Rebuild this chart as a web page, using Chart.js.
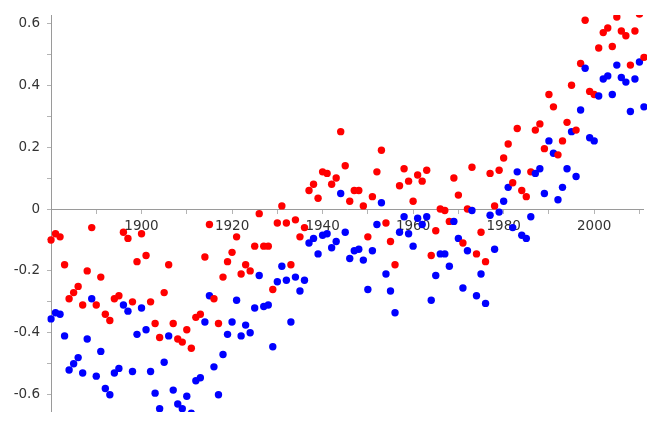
<!DOCTYPE html>
<html>
<head>
<meta charset="utf-8">
<script src="https://cdn.jsdelivr.net/npm/chart.js@4/dist/chart.umd.min.js"></script>
<style>
  html, body { margin: 0; padding: 0; background: #ffffff; }
  canvas { display: block; }
</style>
</head>
<body>
<canvas id="chart" width="647" height="427"></canvas>
<script>
// Annual temperature anomalies, two records, one point per year.
const years = [
  1880, 1881, 1882, 1883, 1884, 1885, 1886, 1887, 1888, 1889,
  1890, 1891, 1892, 1893, 1894, 1895, 1896, 1897, 1898, 1899,
  1900, 1901, 1902, 1903, 1904, 1905, 1906, 1907, 1908, 1909,
  1910, 1911, 1912, 1913, 1914, 1915, 1916, 1917, 1918, 1919,
  1920, 1921, 1922, 1923, 1924, 1925, 1926, 1927, 1928, 1929,
  1930, 1931, 1932, 1933, 1934, 1935, 1936, 1937, 1938, 1939,
  1940, 1941, 1942, 1943, 1944, 1945, 1946, 1947, 1948, 1949,
  1950, 1951, 1952, 1953, 1954, 1955, 1956, 1957, 1958, 1959,
  1960, 1961, 1962, 1963, 1964, 1965, 1966, 1967, 1968, 1969,
  1970, 1971, 1972, 1973, 1974, 1975, 1976, 1977, 1978, 1979,
  1980, 1981, 1982, 1983, 1984, 1985, 1986, 1987, 1988, 1989,
  1990, 1991, 1992, 1993, 1994, 1995, 1996, 1997, 1998, 1999,
  2000, 2001, 2002, 2003, 2004, 2005, 2006, 2007, 2008, 2009,
  2010, 2011
];

const redSeries = [
  -0.10, -0.08, -0.09, -0.18, -0.29, -0.27, -0.25, -0.31, -0.20, -0.06,
  -0.31, -0.22, -0.34, -0.36, -0.29, -0.28, -0.075, -0.095, -0.30, -0.17,
  -0.08, -0.15, -0.30, -0.37, -0.415, -0.27, -0.18, -0.37, -0.42, -0.43,
  -0.39, -0.45, -0.35, -0.34, -0.155, -0.05, -0.29, -0.37, -0.22, -0.17,
  -0.14, -0.09, -0.21, -0.18, -0.20, -0.12, -0.015, -0.12, -0.12, -0.26,
  -0.045, 0.01, -0.045, -0.18, -0.035, -0.09, -0.06, 0.06, 0.08, 0.035,
  0.12, 0.115, 0.08, 0.10, 0.25, 0.14, 0.025, 0.06, 0.06, 0.01,
  -0.09, 0.04, 0.12, 0.19, -0.045, -0.105, -0.18, 0.075, 0.13, 0.09,
  0.025, 0.11, 0.09, 0.125, -0.15, -0.07, 0.00, -0.005, -0.04, 0.10,
  0.045, -0.11, 0.00, 0.135, -0.145, -0.075, -0.17, 0.115, 0.01, 0.125,
  0.165, 0.21, 0.085, 0.26, 0.06, 0.04, 0.12, 0.255, 0.275, 0.195,
  0.37, 0.33, 0.175, 0.22, 0.28, 0.40, 0.255, 0.47, 0.61, 0.38,
  0.37, 0.52, 0.57, 0.585, 0.525, 0.62, 0.575, 0.56, 0.465, 0.575,
  0.63, 0.49
];

const blueSeries = [
  -0.355, -0.335, -0.34, -0.41, -0.52, -0.50, -0.48, -0.53, -0.42, -0.29,
  -0.54, -0.46, -0.58, -0.60, -0.53, -0.515, -0.31, -0.33, -0.525, -0.405,
  -0.32, -0.39, -0.525, -0.595, -0.645, -0.495, -0.41, -0.585, -0.63, -0.645,
  -0.605, -0.66, -0.555, -0.545, -0.365, -0.28, -0.51, -0.60, -0.47, -0.405,
  -0.365, -0.295, -0.41, -0.375, -0.40, -0.32, -0.215, -0.315, -0.31, -0.445,
  -0.235, -0.185, -0.23, -0.365, -0.22, -0.265, -0.23, -0.11, -0.095, -0.145,
  -0.085, -0.08, -0.125, -0.105, 0.05, -0.075, -0.16, -0.135, -0.13, -0.165,
  -0.26, -0.135, -0.05, 0.02, -0.21, -0.265, -0.335, -0.075, -0.025, -0.08,
  -0.12, -0.03, -0.05, -0.025, -0.295, -0.215, -0.145, -0.145, -0.185, -0.04,
  -0.095, -0.255, -0.135, -0.005, -0.28, -0.21, -0.305, -0.02, -0.13, -0.01,
  0.025, 0.07, -0.06, 0.12, -0.085, -0.095, -0.025, 0.115, 0.13, 0.05,
  0.22, 0.18, 0.03, 0.07, 0.13, 0.25, 0.105, 0.32, 0.455, 0.23,
  0.22, 0.365, 0.42, 0.43, 0.37, 0.465, 0.425, 0.41, 0.315, 0.42,
  0.475, 0.33
];

// Tick positions and their labels (empty label = unlabelled minor tick).
const xTickValues = [1890, 1900, 1910, 1920, 1930, 1940, 1950, 1960, 1970, 1980, 1990, 2000, 2010];
const xTickLabels = ['', '1900', '', '1920', '', '1940', '', '1960', '', '1980', '', '2000', ''];
const yTickValues = [-0.6, -0.5, -0.4, -0.3, -0.2, -0.1, 0, 0.1, 0.2, 0.3, 0.4, 0.5, 0.6];
const yTickLabels = ['-0.6', '', '-0.4', '', '-0.2', '', '0', '', '0.2', '', '0.4', '', '0.6'];

const RED = '#ff0000';
const BLUE = '#0000ff';

// Points are drawn year by year (red, then blue) so overlaps stack the same way.
const points = [];
const pointColors = [];
years.forEach((yr, i) => {
  points.push({ x: yr, y: redSeries[i] });
  pointColors.push(RED);
  points.push({ x: yr, y: blueSeries[i] });
  pointColors.push(BLUE);
});

const tickFont = { family: '"DejaVu Sans", Verdana, sans-serif', size: 13.5 };
const textColor = '#333333';
const axisColor = '#9a9a9a';
const tickColor = '#b4b4b4';

new Chart(document.getElementById('chart'), {
  type: 'scatter',
  data: {
    datasets: [{
      data: points,
      pointRadius: 3.7,
      pointBorderWidth: 0,
      pointBackgroundColor: pointColors,
      pointHoverRadius: 3.7
    }]
  },
  options: {
    responsive: false,
    devicePixelRatio: 1,
    animation: false,
    layout: { padding: { top: 7, bottom: 5, left: 0, right: 0 } },
    plugins: { legend: { display: false }, tooltip: { enabled: false } },
    scales: {
      x: {
        type: 'linear',
        position: { y: 0 },
        bounds: 'data',
        afterDataLimits: (s) => { s.min = 1880; s.max = 2010.85; },
        afterBuildTicks: (s) => { s.ticks = xTickValues.map(v => ({ value: v })); },
        afterFit: (s) => { s.height = 0; },
        grid: { drawOnChartArea: false, drawTicks: true, tickLength: 4, color: tickColor, lineWidth: 1 },
        border: { display: true, color: axisColor, width: 1 },
        ticks: {
          autoSkip: false, maxRotation: 0, minRotation: 0, padding: 5,
          color: textColor, font: tickFont,
          callback: (v, i) => xTickLabels[i]
        }
      },
      y: {
        type: 'linear',
        position: 'left',
        min: -0.6555,
        max: 0.6265,
        afterBuildTicks: (s) => { s.ticks = yTickValues.map(v => ({ value: v })); },
        afterFit: (s) => { s.width = 51; },
        grid: { drawOnChartArea: false, drawTicks: true, tickLength: 4, color: tickColor, lineWidth: 1 },
        border: { display: true, color: axisColor, width: 1 },
        ticks: {
          padding: 7, color: textColor, font: tickFont,
          callback: (v, i) => yTickLabels[i]
        }
      }
    }
  }
});
</script>
</body>
</html>
